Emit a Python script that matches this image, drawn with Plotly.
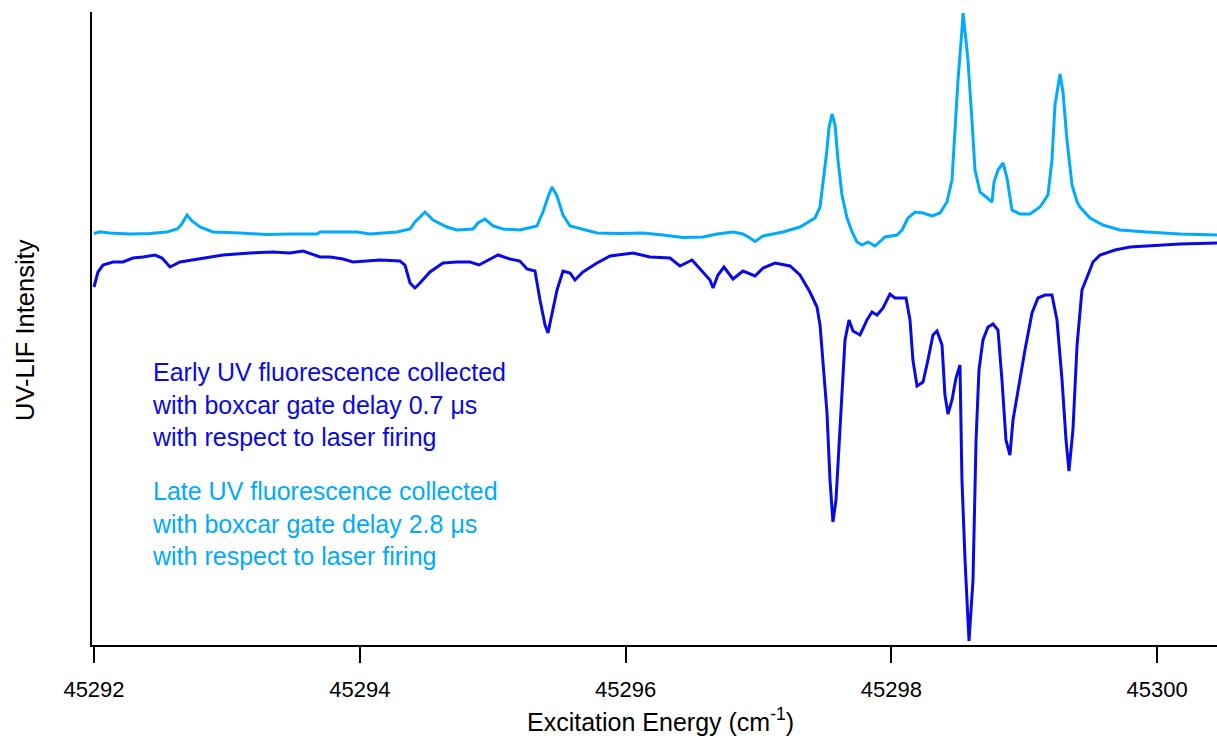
import plotly.graph_objects as go

# Late UV fluorescence (gate delay 2.8 us): energy offset from 45292 cm-1, intensity (arb.)
late_dx = [0.000, 0.045, 0.120, 0.271, 0.421, 0.549, 0.625, 0.655, 0.700, 0.737, 0.798, 0.895,
           1.099, 1.302, 1.475, 1.678, 1.701, 1.776, 1.979, 2.077, 2.280, 2.378, 2.415, 2.491,
           2.551, 2.656, 2.731, 2.852, 2.889, 2.942, 3.002, 3.077, 3.205, 3.333, 3.378, 3.416,
           3.446, 3.484, 3.529, 3.582, 3.679, 3.785, 3.958, 4.131, 4.281, 4.432, 4.582, 4.688,
           4.808, 4.883, 4.936, 4.974, 5.034, 5.184, 5.312, 5.387, 5.425, 5.463, 5.485, 5.515,
           5.530, 5.553, 5.576, 5.598, 5.628, 5.666, 5.704, 5.741, 5.779, 5.824, 5.877, 5.952,
           6.042, 6.080, 6.125, 6.178, 6.238, 6.306, 6.366, 6.418, 6.456, 6.479, 6.501, 6.531,
           6.539, 6.561, 6.576, 6.606, 6.629, 6.667, 6.719, 6.757, 6.772, 6.802, 6.840, 6.870,
           6.907, 6.968, 7.043, 7.118, 7.178, 7.208, 7.231, 7.269, 7.291, 7.321, 7.359, 7.397,
           7.419, 7.494, 7.592, 7.720, 7.923, 8.171, 8.450]
late_int = [411.5, 413.3, 412, 411, 411.5, 413, 416, 420, 430, 424, 418, 413,
            412, 410.5, 411, 411, 413, 413, 413, 411, 413, 416, 423, 433,
            425, 418, 415, 416, 422, 426, 419, 416, 415, 419, 433, 448,
            458, 449, 430, 419, 416, 412, 411.5, 412, 410, 407.5, 408, 411,
            413, 411, 407, 403.5, 409, 413, 418, 424, 427, 438, 460, 495,
            517, 531, 520, 485, 450, 427, 413, 403, 400, 403, 399, 408,
            410, 415, 427, 433, 432, 429, 432, 443, 465, 515, 565, 615,
            632, 605, 585, 525, 475, 453, 447, 443, 463, 475, 482, 467,
            435, 431, 431, 438, 450, 485, 540, 571, 553, 505, 460, 443,
            438, 427, 420, 415, 413, 411, 410]

# Early UV fluorescence (gate delay 0.7 us)
early_dx = [0.000, 0.030, 0.068, 0.143, 0.218, 0.293, 0.369, 0.459, 0.512, 0.572, 0.647, 0.798,
            0.971, 1.174, 1.347, 1.475, 1.573, 1.701, 1.776, 1.874, 1.949, 2.152, 2.302, 2.340,
            2.378, 2.415, 2.453, 2.528, 2.626, 2.731, 2.829, 2.897, 2.957, 3.040, 3.130, 3.205,
            3.258, 3.318, 3.356, 3.394, 3.416, 3.446, 3.484, 3.529, 3.582, 3.619, 3.679, 3.785,
            3.883, 4.056, 4.184, 4.334, 4.409, 4.500, 4.582, 4.635, 4.658, 4.695, 4.740, 4.808,
            4.883, 4.974, 5.034, 5.124, 5.237, 5.312, 5.387, 5.440, 5.463, 5.485, 5.515, 5.538,
            5.560, 5.583, 5.606, 5.628, 5.651, 5.681, 5.711, 5.764, 5.816, 5.854, 5.892, 5.937,
            5.989, 6.027, 6.110, 6.140, 6.162, 6.193, 6.238, 6.275, 6.313, 6.343, 6.381, 6.403,
            6.426, 6.456, 6.486, 6.516, 6.531, 6.554, 6.584, 6.614, 6.637, 6.659, 6.689, 6.727,
            6.765, 6.802, 6.832, 6.862, 6.892, 6.915, 6.953, 7.005, 7.058, 7.103, 7.156, 7.208,
            7.246, 7.284, 7.314, 7.336, 7.366, 7.397, 7.434, 7.472, 7.517, 7.570, 7.683, 7.795,
            8.171, 8.450]
early_int = [358, 373, 380, 383, 383, 387, 388, 390, 387, 378, 383, 386,
             390, 392, 393, 392, 394, 388, 388, 386, 383, 385, 384, 380,
             362, 357, 362, 373, 382, 383, 383, 380, 384, 390, 386, 384,
             376, 374, 345, 320, 312, 330, 355, 374, 372, 365, 373, 382,
             389, 392, 388, 387, 379, 385, 373, 365, 357, 370, 378, 366,
             374, 369, 377, 382, 379, 370, 353, 338, 320, 280, 233, 165,
             123, 145, 195, 255, 305, 325, 314, 310, 325, 333, 330, 337,
             351, 347, 347, 325, 285, 259, 263, 285, 310, 314, 300, 250,
             231, 245, 267, 280, 165, 85, 4, 65, 205, 275, 305, 318,
             321, 315, 265, 205, 190, 225, 255, 295, 332, 347, 350, 350,
             325, 265, 205, 174, 215, 300, 355, 368, 383, 390, 395, 398,
             401, 402]

E0 = 45292.0
tick_vals = [45292, 45294, 45296, 45298, 45300]
tick_text = ["45292", "45294", "45296", "45298", "45300"]

LIGHT = "#00AAFF"
DARK = "#0A0AE6"
FONT = "Liberation Sans, Arial, sans-serif"

fig = go.Figure()
fig.add_trace(go.Scatter(x=[E0 + d for d in late_dx], y=late_int, mode="lines",
                         line=dict(color=LIGHT, width=3), showlegend=False))
fig.add_trace(go.Scatter(x=[E0 + d for d in early_dx], y=early_int, mode="lines",
                         line=dict(color=DARK, width=3), showlegend=False))

fig.update_layout(
    width=1217, height=738,
    margin=dict(l=92, r=0, t=12, b=93),
    paper_bgcolor="white", plot_bgcolor="white",
    font=dict(family=FONT, color="black"),
    xaxis=dict(range=[45291.985, 45300.45], tickvals=tick_vals, ticktext=tick_text,
               showgrid=False, zeroline=False, showline=True, linecolor="black", linewidth=2,
               ticks="outside", ticklen=16, tickwidth=1.5, tickcolor="black",
               ticklabelstandoff=8,
               tickfont=dict(size=22, family=FONT)),
    yaxis=dict(range=[0, 633], showgrid=False, zeroline=False, showline=True,
               linecolor="black", linewidth=2, showticklabels=False, ticks=""),
)

fig.add_annotation(xref="paper", yref="paper", x=0.505, y=-0.119, showarrow=False,
                   text="Excitation Energy (cm<sup>-1</sup>)", font=dict(size=25, family=FONT),
                   xanchor="center", yanchor="middle")
fig.add_annotation(xref="paper", yref="paper", x=-0.0596, y=0.4976, showarrow=False,
                   text="UV-LIF Intensity", textangle=-90, font=dict(size=25.5, family=FONT),
                   xanchor="center", yanchor="middle")
fig.add_annotation(x=45292.42, y=241, showarrow=False, align="left", xanchor="left",
                   yanchor="middle",
                   text="Early UV fluorescence collected<br>with boxcar gate delay 0.7 μs<br>with respect to laser firing",
                   font=dict(size=25, color=DARK, family=FONT))
fig.add_annotation(x=45292.42, y=122, showarrow=False, align="left", xanchor="left",
                   yanchor="middle",
                   text="Late UV fluorescence collected<br>with boxcar gate delay 2.8 μs<br>with respect to laser firing",
                   font=dict(size=25, color=LIGHT, family=FONT))

fig.write_html("out.html")
